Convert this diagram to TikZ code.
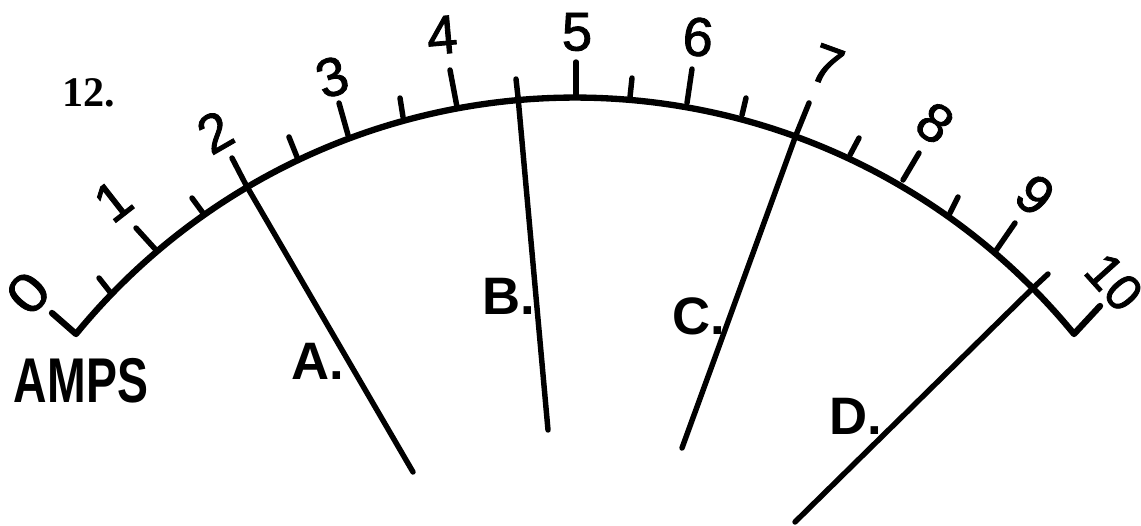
\documentclass[tikz,border=0pt]{standalone}
\usepackage{fontspec}
\setmainfont{Liberation Sans}
\newfontfamily\dialfont[FakeBold=1.6]{Liberation Sans}
\newfontfamily\numfont{Liberation Serif}
\usepackage{tikz}

\tikzset{
  scaleline/.style={line width=3.6pt, line cap=round, line join=round},
  markline/.style={line width=3.1pt, line cap=round},
  digit/.style={font=\fontsize{31}{31}\dialfont, inner sep=0pt},
  letter/.style={font=\fontsize{30}{30}\selectfont\bfseries, inner sep=0pt}
}

\begin{document}
\begin{tikzpicture}[x=0.02cm,y=-0.02cm]
   \useasboundingbox (0,0) rectangle (1141,526);

   \coordinate (hookL) at (52,313);
   \coordinate (cornerL) at (76,334);
   \coordinate (cornerR) at (1072,333);
   \coordinate (hookR) at (1100,306);

   % scale
   \draw[scaleline] (hookL) -- (cornerL) arc[start angle=140.7, end angle=39.3, radius=12.9cm] -- (hookR);

   % ticks
   \foreach \tx/\ty/\bx/\by in {99/278/110/292, 136/228/156/250, 192/198/203/213, 232/158/246/185,
     289/137/297/157, 339/103/348/135, 400/98/403/117, 450/70/457/107, 516/79/518/97, 576/62/576/97,
     632/78/630/97, 692/69/687/103, 746/98/742/115, 809/103/796/135, 859/138/850/155,
     919/153/903/180, 958/197/950/213, 1015/223/995/252, 1048/274/1033/288}
     \draw[markline] (\tx,\ty) -- (\bx,\by);

   \node[digit, rotate=48] (d0) at (28,293) {\scalebox{1.15}[1]{0}};
   \node[digit, rotate=38] (d1) at (113,201) {1};
   \node[digit, rotate=30] (d2) at (215,132) {2};
   \node[digit, rotate=18] (d3) at (332,77) {3};
   \node[digit, rotate=5] (d4) at (442,35) {4};
   \node[digit] (d5) at (577,32) {5};
   \node[digit, rotate=-5] (d6) at (698,37) {6};
   \node[digit, rotate=-20] (d7) at (827,65) {7};
   \node[digit, rotate=-35] (d8) at (935,123) {8};
   \node[digit, rotate=-40] (d9) at (1035,195) {9};
   \node[font=\fontsize{29}{29}\dialfont, inner sep=0pt, rotate=-48] (d10) at (1114,282) {10};

   \node[font=\fontsize{24}{24}\numfont\bfseries, inner sep=0pt] (num) at (89,93) {12.};
   \node[letter] (amps) at (81,381) {\scalebox{0.88}[1.2]{AMPS}};

   % needles
   \coordinate (A1) at (246,185);
   \coordinate (A2) at (413,472);
   \coordinate (B1) at (518,97);
   \coordinate (B2) at (548,430);
   \coordinate (C1) at (796,135);
   \coordinate (C2) at (682,448);
   \coordinate (D1) at (1033,288);
   \coordinate (D2) at (795,522);

   \draw[markline] (A1) -- (A2);
   \draw[markline] (B1) -- (B2);
   \draw[markline] (C1) -- (C2);
   \draw[markline] (D1) -- (D2);

   \node[letter] (la) at (318,361) {A.};
   \node[letter] (lb) at (509,296) {B.};
   \node[letter] (lc) at (699,316) {C.};
   \node[letter] (ld) at (856,416) {D.};
\end{tikzpicture}
\end{document}
